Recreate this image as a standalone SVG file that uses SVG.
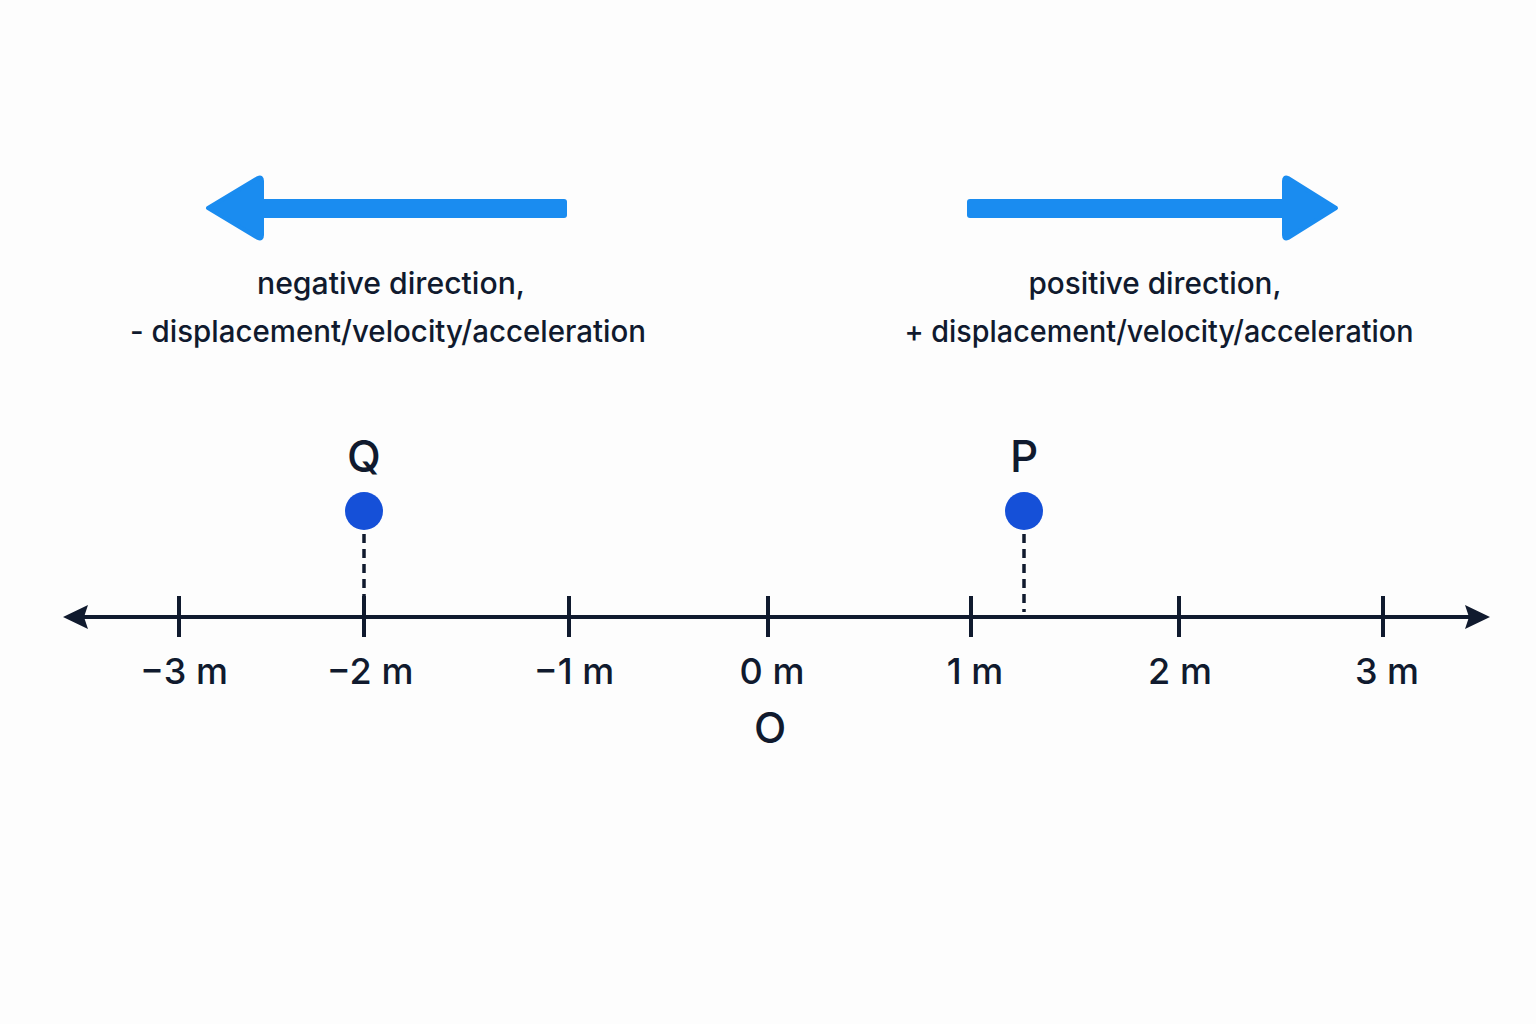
<svg xmlns="http://www.w3.org/2000/svg" width="1536" height="1024" viewBox="0 0 1536 1024">
<style>
.t{font-family:Inter,"Liberation Sans",sans-serif;fill:#101a2e}
.cap{font-size:30px;text-anchor:middle;font-weight:500}
.tick{stroke:#101a2e;stroke-width:4;stroke-linecap:butt}
.lab{font-size:36px;text-anchor:middle;font-weight:500}
.dash{stroke:#101a2e;stroke-width:3.5;stroke-dasharray:9 6}
.dot{fill:#1550d8}
.blue{fill:#1a8cf0}
</style>
<rect width="1536" height="1024" fill="#fdfdfd"/>
<g id="neg-arrow">
<rect class="blue" x="240" y="199" width="327" height="19" rx="3"/>
<path class="blue" d="M208 208 L258 178 Q262 176 262 181 L262 235 Q262 240 258 238 Z" stroke="#1a8cf0" stroke-width="4" stroke-linejoin="round"/>
</g>
<g id="pos-arrow">
<rect class="blue" x="967" y="199" width="330" height="19" rx="3"/>
<path class="blue" d="M1336 208 L1288 178 Q1284 176 1284 181 L1284 235 Q1284 240 1288 238 Z" stroke="#1a8cf0" stroke-width="4" stroke-linejoin="round"/>
</g>
<g id="neg-label">
<text class="t cap" x="391" y="294" textLength="268" lengthAdjust="spacingAndGlyphs">negative direction,</text>
<text class="t cap" x="388" y="342" textLength="516" lengthAdjust="spacingAndGlyphs">- displacement/velocity/acceleration</text>
</g>
<g id="pos-label">
<text class="t cap" x="1155" y="294" textLength="253" lengthAdjust="spacingAndGlyphs">positive direction,</text>
<text class="t cap" x="1159" y="342" textLength="509" lengthAdjust="spacingAndGlyphs">+ displacement/velocity/acceleration</text>
</g>
<g id="connectors">
<line x1="80" y1="617" x2="1475" y2="617" stroke="#101a2e" stroke-width="4"/>
<path d="M63 617 L88 605 L84 617 L88 629 Z" fill="#101a2e"/>
<path d="M1490 617 L1465 605 L1469 617 L1465 629 Z" fill="#101a2e"/>
<line class="dash" x1="364" y1="534" x2="364" y2="612"/>
<line class="dash" x1="1024" y1="534" x2="1024" y2="612"/>
</g>
<g id="ticks">
<line class="tick" x1="179" y1="596" x2="179" y2="637"/>
<line class="tick" x1="364" y1="596" x2="364" y2="637"/>
<line class="tick" x1="569" y1="596" x2="569" y2="637"/>
<line class="tick" x1="768" y1="596" x2="768" y2="637"/>
<line class="tick" x1="971" y1="596" x2="971" y2="637"/>
<line class="tick" x1="1179" y1="596" x2="1179" y2="637"/>
<line class="tick" x1="1383" y1="596" x2="1383" y2="637"/>
</g>
<g id="tick-labels">
<text class="t lab" x="184" y="684">−3 m</text>
<text class="t lab" x="370" y="684">−2 m</text>
<text class="t lab" x="574" y="684">−1 m</text>
<text class="t lab" x="772" y="684">0 m</text>
<text class="t lab" x="975" y="684">1 m</text>
<text class="t lab" x="1180" y="684">2 m</text>
<text class="t lab" x="1387" y="684">3 m</text>
<text class="t" x="770" y="743" font-size="42" font-weight="500" text-anchor="middle">O</text>
</g>
<g id="Q">
<text class="t" x="364" y="472" font-size="44" font-weight="500" text-anchor="middle">Q</text>
<circle class="dot" cx="364" cy="511" r="19"/>
</g>
<g id="P">
<text class="t" x="1024" y="472" font-size="44" font-weight="500" text-anchor="middle">P</text>
<circle class="dot" cx="1024" cy="511" r="19"/>
</g>
</svg>
